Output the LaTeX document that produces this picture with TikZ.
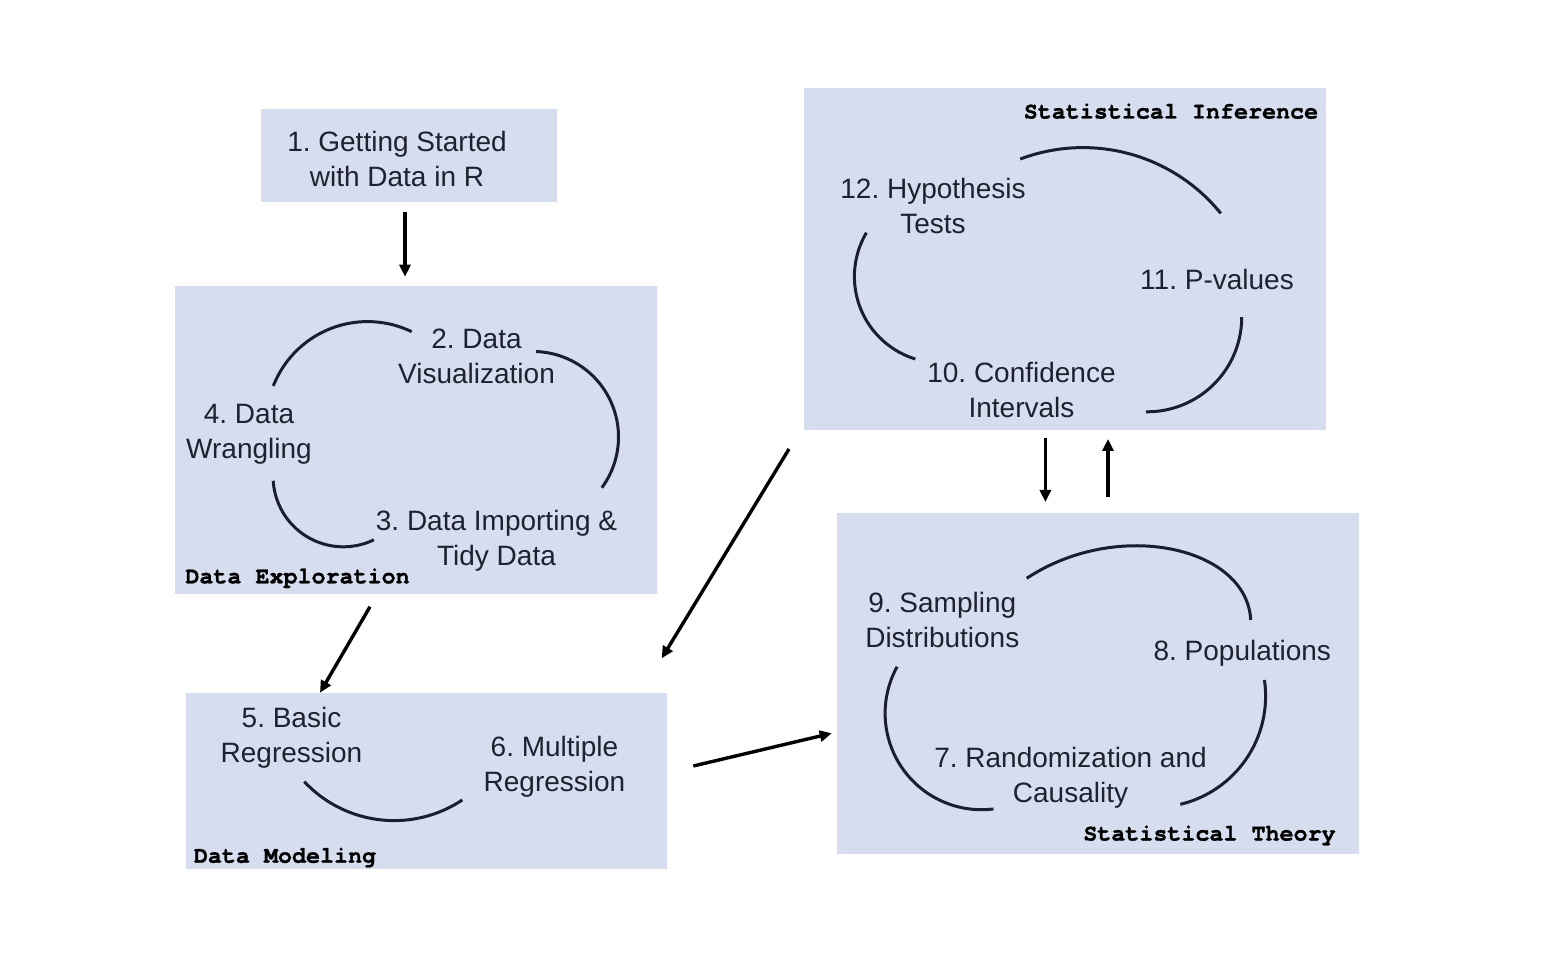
\documentclass[tikz,border=0pt]{standalone}
\usepackage{fontspec}
\setmainfont{Liberation Sans}
\newfontfamily\tagfont{texgyrecursor}[Extension=.otf, UprightFont=*-regular, BoldFont=*-bold, BoldFeatures={FakeBold=1.2}]
\usetikzlibrary{arrows.meta}
\definecolor{boxblue}{RGB}{214,221,239}
\definecolor{inktext}{RGB}{30,34,48}
\definecolor{arcink}{RGB}{26,30,48}
\begin{document}
\frenchspacing
\begin{tikzpicture}[x=0.5pt,y=-0.5pt,
  panel/.style={fill=boxblue},
  topic/.style={font=\fontsize{14pt}{17.5pt}\selectfont\frenchspacing, text=inktext, align=center, anchor=north, inner sep=0pt},
  tag/.style={font=\fontsize{11.68pt}{14pt}\selectfont\tagfont\bfseries, text=black, inner sep=0pt},
  cyc/.style={draw=arcink, line width=1.5pt},
  flow/.style={draw=black, line width=1.7pt, -{Triangle[length=6pt,width=5.5pt]}}]
\useasboundingbox (0,0) rectangle (1546,956);

% panels
\fill[panel] (261,109) rectangle (557,202);
\fill[panel] (175,286) rectangle (656.5,594);
\fill[panel] (186,693) rectangle (667,868.5);
\fill[panel] (804,88) rectangle (1326,430);
\fill[panel] (837,513) rectangle (1358.5,854);

% topics
\node[topic] (t1) at (397,131) {1. Getting Started\\with Data in R};
\node[topic] (t2) at (476.5,328.3) {2. Data\\Visualization};
\node[topic] (t4) at (249,404) {4. Data\\Wrangling};
\node[topic] (t3) at (496.5,510) {3. Data Importing \&\\Tidy Data};
\node[topic] (t5) at (291.5,706.7) {5. Basic\\Regression};
\node[topic] (t6) at (554.5,736) {6. Multiple\\Regression};
\node[topic] (t12) at (933,178) {12. Hypothesis\\Tests};
\node[topic] (t11) at (1217,269) {11. P-values};
\node[topic] (t10) at (1021.5,362) {10. Confidence\\Intervals};
\node[topic] (t9) at (942.3,592.3) {9. Sampling\\Distributions};
\node[topic] (t8) at (1242.3,640) {8. Populations};
\node[topic] (t7) at (1070.5,746.7) {7. Randomization and\\Causality};

% group tags
\node[tag, anchor=base west] (g1) at (185,583.3) {Data Exploration};
\node[tag, anchor=base west] (g2) at (193.5,862.7) {Data Modeling};
\node[tag, anchor=base east] (g3) at (1318.5,118.5) {Statistical Inference};
\node[tag, anchor=base east] (g4) at (1336,840.5) {Statistical Theory};

% cycle arcs: data exploration
\draw[cyc] plot[domain=-158.6:-64.2, samples=60] ({367.6+101.3*cos(\x)}, {422.9+101.3*sin(\x)});
\draw[cyc] plot[domain=-88:36.4, samples=60] ({533+85.5*cos(\x)}, {437+85.5*sin(\x)});
\draw[cyc] plot[domain=64.2:176.6, samples=60] ({343.3+70.2*cos(\x)}, {476.6+70.2*sin(\x)});
% data modeling
\draw[cyc] plot[domain=56.3:136.9, samples=60] ({394.1+123*cos(\x)}, {697.6+123*sin(\x)});
% statistical inference
\draw[cyc] plot[domain=-110.7:-39, samples=60] ({1082.9+177.4*cos(\x)}, {325+177.4*sin(\x)});
\draw[cyc] plot[domain=107.1:210.6, samples=60] ({940.6+86.2*cos(\x)}, {276.6+86.2*sin(\x)});
\draw[cyc] plot[domain=0:90.7, samples=60] ({1147.1+94.6*cos(\x)}, {317.2+94.6*sin(\x)});
% statistical theory
\coordinate (gs) at (1026.7,578.3); \coordinate (ge) at (1250.7,620);
\draw[cyc] (gs) .. controls (1118,518) and (1247,547) .. (ge);
\draw[cyc] plot[domain=82.9:208.9, samples=60] ({981.5+96.4*cos(\x)}, {713.3+96.4*sin(\x)});
\draw[cyc] plot[domain=-8.4:76.5, samples=60] ({1154.4+111.2*cos(\x)}, {696.2+111.2*sin(\x)});

% arrow ends
\coordinate (a1s) at (405,211.7);   \coordinate (a1e) at (405,276.7);
\coordinate (a2s) at (370,606.7);   \coordinate (a2e) at (320,692.7);
\coordinate (a3s) at (789,449);     \coordinate (a3e) at (661.7,658.3);
\coordinate (a4s) at (693.3,766);   \coordinate (a4e) at (831.7,733.3);
\coordinate (a5s) at (1045.4,438);  \coordinate (a5e) at (1045.4,502);
\coordinate (a6s) at (1108,496.7);  \coordinate (a6e) at (1108,439);

\draw[flow] (a1s) -- (a1e);
\draw[flow] (a2s) -- (a2e);
\draw[flow] (a3s) -- (a3e);
\draw[flow] (a4s) -- (a4e);
\draw[flow] (a5s) -- (a5e);
\draw[flow] (a6s) -- (a6e);
\end{tikzpicture}
\end{document}
